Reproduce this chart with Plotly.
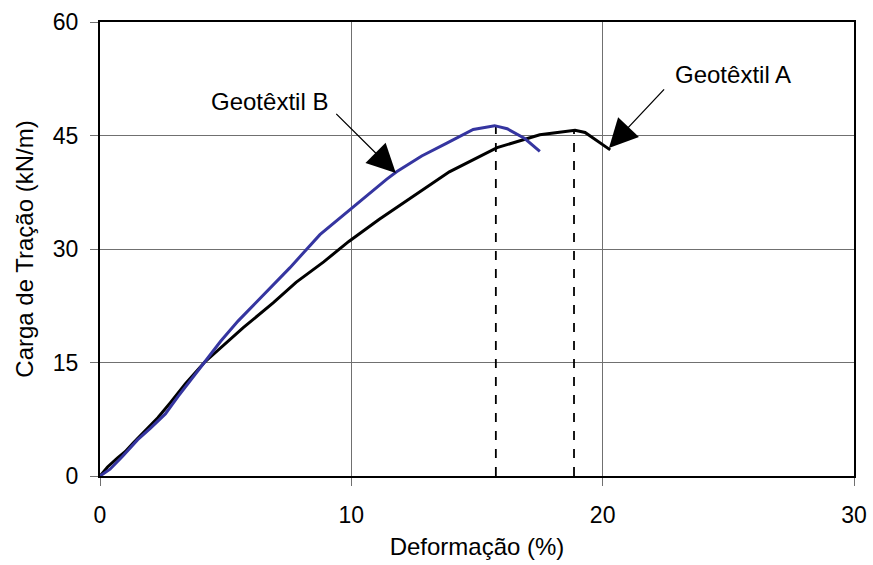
import plotly.graph_objects as go

# Geotêxtil A (black)
a_x = [0, 0.3, 0.7, 1.0, 1.33, 1.8, 2.3, 2.8, 3.4, 4.15, 4.9, 5.7, 6.9, 7.8, 8.9, 9.9,
       11.1, 12.3, 13.9, 15.8, 17.5, 18.9, 19.3, 20.3]
a_y = [0, 1.2, 2.4, 3.2, 4.4, 6.0, 7.7, 9.7, 12.2, 15.0, 17.2, 19.6, 22.9, 25.6, 28.3, 31.0,
       33.9, 36.6, 40.2, 43.4, 45.1, 45.7, 45.4, 43.1]

# Geotêxtil B (blue)
b_x = [0, 0.4, 0.9, 1.5, 2.0, 2.6, 3.1, 3.6, 4.15, 4.8, 5.5, 6.2, 6.8, 7.55, 8.75, 9.94,
       11.4, 11.8, 12.8, 13.8, 14.85, 15.7, 16.2, 16.9, 17.5]
b_y = [0, 0.9, 2.6, 4.8, 6.3, 8.2, 10.5, 12.6, 15.0, 17.8, 20.5, 22.9, 25.0, 27.5, 31.9, 35.2,
       39.2, 40.2, 42.3, 44.0, 45.8, 46.3, 45.9, 44.6, 42.9]

# peak markers (dashed verticals)
peak_x = [15.75, 18.86]
peak_y = [46.3, 45.7]

x_ticks = [0, 10, 20, 30]
y_ticks = [0, 15, 30, 45, 60]

fig = go.Figure()
for px, py in zip(peak_x, peak_y):
    fig.add_trace(go.Scatter(x=[px, px], y=[0, py], mode="lines",
                             line=dict(color="black", width=1.8, dash="dash"),
                             showlegend=False, hoverinfo="skip"))
fig.add_trace(go.Scatter(x=a_x, y=a_y, mode="lines", name="Geotêxtil A",
                         line=dict(color="black", width=3), showlegend=False))
fig.add_trace(go.Scatter(x=b_x, y=b_y, mode="lines", name="Geotêxtil B",
                         line=dict(color="#3535A0", width=3), showlegend=False))

font = "Liberation Sans, Arial, sans-serif"
fig.update_layout(
    width=873, height=565,
    margin=dict(l=100, r=19, t=22, b=89),
    paper_bgcolor="white", plot_bgcolor="white",
    font=dict(family=font, size=23, color="black"),
    xaxis=dict(range=[0, 30], tickvals=x_ticks, showgrid=True, gridcolor="#707070",
               gridwidth=1, showline=True, linecolor="black", linewidth=2, mirror=True,
               ticks="outside", ticklen=8, tickcolor="#707070", zeroline=False,
               ticklabelstandoff=9, automargin=False,
               title=dict(text="Deformação (%)", font=dict(size=24), standoff=12),
               tickfont=dict(size=23)),
    yaxis=dict(range=[0, 60], tickvals=y_ticks, showgrid=True, gridcolor="#707070",
               gridwidth=1, showline=True, linecolor="black", linewidth=2, mirror=True,
               ticks="outside", ticklen=8, tickcolor="#707070", zeroline=False,
               ticklabelstandoff=7, automargin=False,
               title=dict(text="Carga de Tração (kN/m)", font=dict(size=24), standoff=12),
               tickfont=dict(size=23)),
)

# arrows
fig.add_annotation(x=11.77, y=40.05, ax=9.34, ay=48.06, axref="x", ayref="y",
                   xref="x", yref="y", text="", showarrow=True, arrowhead=2,
                   arrowsize=4.4, arrowwidth=1.3, arrowcolor="black")
fig.add_annotation(x=20.25, y=43.35, ax=22.5, ay=51.3, axref="x", ayref="y",
                   xref="x", yref="y", text="", showarrow=True, arrowhead=2,
                   arrowsize=4.4, arrowwidth=1.3, arrowcolor="black")
fig.add_annotation(x=6.76, y=49.5, xref="x", yref="y", text="Geotêxtil B",
                   showarrow=False, font=dict(size=24, family=font))
fig.add_annotation(x=25.17, y=53.0, xref="x", yref="y", text="Geotêxtil A",
                   showarrow=False, font=dict(size=24, family=font))

fig.write_html("out.html")
